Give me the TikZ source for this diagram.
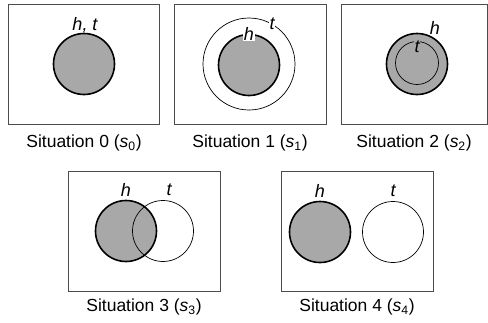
\documentclass[tikz,border=0pt]{standalone}
\usepackage{fontspec}
\setmainfont{Liberation Sans}
\definecolor{discgray}{RGB}{168,168,168}
\begin{document}
\begin{tikzpicture}[x=1pt,y=-1pt,
  frame/.style={draw=black!70,line width=1pt,inner sep=0pt,minimum height=120pt},
  disc/.style={circle,fill=discgray,draw=black,line width=1.6pt,minimum size=61pt,inner sep=0pt},
  ring/.style={circle,draw=black,line width=0.7pt,inner sep=0pt},
  captext/.style={font=\fontsize{17.5}{20}\selectfont,inner sep=0pt},
  lab/.style={font=\fontsize{18}{20}\selectfont\itshape,inner sep=0.8pt}]
\useasboundingbox (0,0) rectangle (488,322);
% frames
\node[frame,minimum width=151pt] (f0) at (83.5,64) {};
\node[frame,minimum width=152pt] (f1) at (250,64) {};
\node[frame,minimum width=146pt] (f2) at (414,64) {};
\node[frame,minimum width=152pt] (f3) at (144,231) {};
\node[frame,minimum width=152pt] (f4) at (357,231) {};
% captions
\node[captext] (c0) at (84,143) {Situation 0 (\textit{s}\textsubscript{0})};
\node[captext] (c1) at (250,143) {Situation 1 (\textit{s}\textsubscript{1})};
\node[captext] (c2) at (414,143) {Situation 2 (\textit{s}\textsubscript{2})};
\node[captext] (c3) at (144,307) {Situation 3 (\textit{s}\textsubscript{3})};
\node[captext] (c4) at (357,307) {Situation 4 (\textit{s}\textsubscript{4})};
% situation 0
\node[disc] (d0) at (84,64) {};
\node[lab] (ht0) at (85,25) {h, t};
% situation 1
\node[disc] (d1) at (249,65) {};
\node[ring,minimum size=92pt] (r1) at (249,64) {};
\node[lab,fill=white] (t1) at (r1.60) {t};
\node[lab,fill=white] (h1) at (d1.north) {h};
% situation 2
\node[disc] (d2) at (417,64) {};
\node[ring,minimum size=43pt] (r2) at (417,63) {};
\node[lab,fill=discgray,inner sep=0.3pt] (t2) at (417,47) {t};
\node[lab] (h2) at (435,28) {h};
% situation 3
\node[disc] (d3) at (126,231) {};
\node[ring,minimum size=61pt] (r3) at (163,231) {};
\node[lab] (h3) at (126,190) {h};
\node[lab] (t3) at (169,190) {t};
% situation 4
\node[disc] (d4) at (320,232) {};
\node[ring,minimum size=61pt] (r4) at (393,232) {};
\node[lab] (h4) at (320,191) {h};
\node[lab] (t4) at (393,191) {t};
\end{tikzpicture}
\end{document}
